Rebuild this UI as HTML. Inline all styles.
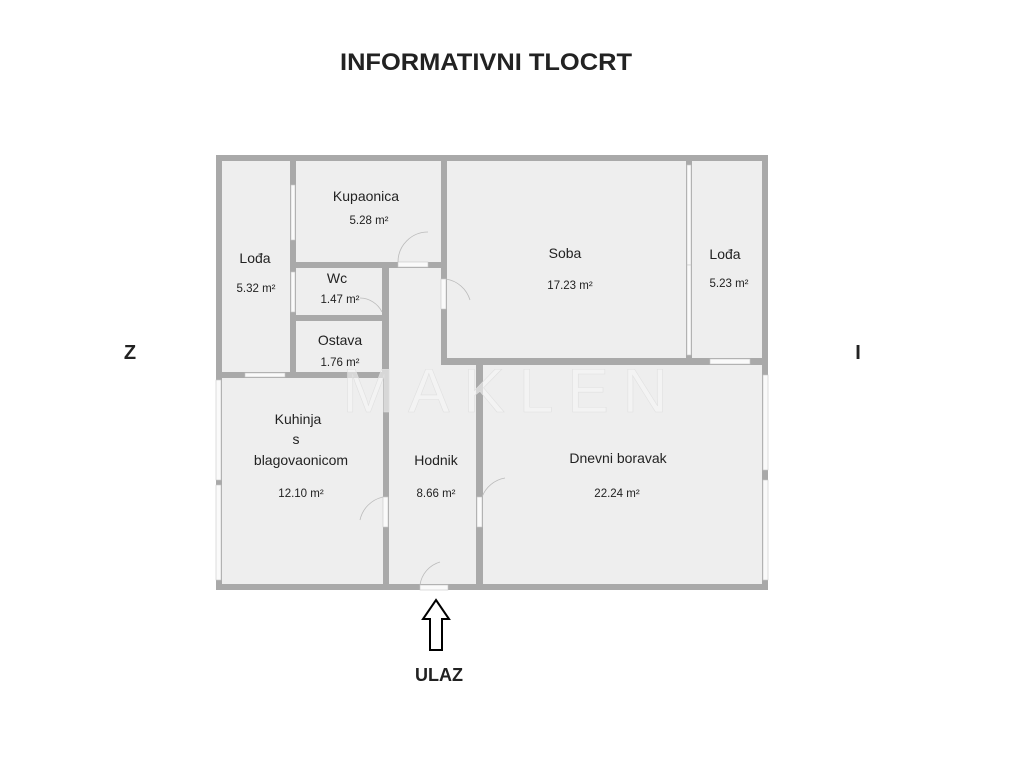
<!DOCTYPE html>
<html><head><meta charset="utf-8"><style>
html,body{margin:0;padding:0;background:#fff;}
svg{display:block;}
text{font-family:"Liberation Sans",sans-serif;fill:#222;}
</style></head><body>
<svg width="1024" height="768" viewBox="0 0 1024 768" xmlns="http://www.w3.org/2000/svg">
<text x="486" y="70" font-size="24.5" font-weight="bold" text-anchor="middle" textLength="292" lengthAdjust="spacingAndGlyphs">INFORMATIVNI TLOCRT</text>
<text x="130" y="359" font-size="20" font-weight="bold" text-anchor="middle">Z</text>
<text x="858" y="359" font-size="20" font-weight="bold" text-anchor="middle">I</text>
<text x="439" y="681" font-size="18" font-weight="bold" text-anchor="middle">ULAZ</text>
<rect x="216" y="155" width="552" height="435" fill="#a9a9a9"/>
<g fill="#eeeeee">
<rect x="222" y="161" width="68" height="211"/>
<rect x="296" y="161" width="145" height="101"/>
<rect x="296" y="268" width="86" height="47"/>
<rect x="296" y="321" width="86" height="51"/>
<rect x="447" y="161" width="239" height="197"/>
<rect x="692" y="161" width="70" height="197"/>
<rect x="222" y="378" width="161" height="206"/>
<rect x="389" y="268" width="52" height="98"/>
<rect x="389" y="365" width="87" height="219"/>
<rect x="483" y="365" width="279" height="219"/>
</g>
<g fill="#fafafa" stroke="#c8c8c8" stroke-width="0.6">
<rect x="291" y="185" width="4" height="55"/>
<rect x="291" y="272" width="4" height="40"/>
<rect x="398" y="262" width="30" height="5"/>
<rect x="441" y="279" width="5" height="30"/>
<rect x="383" y="497" width="5" height="30"/>
<rect x="477" y="497" width="5" height="30"/>
<rect x="420" y="585" width="28" height="5"/>
<rect x="687" y="165" width="4" height="100"/>
<rect x="687" y="265" width="4" height="90"/>
<rect x="216" y="380" width="5" height="100"/>
<rect x="216" y="485" width="5" height="95"/>
<rect x="245" y="373" width="40" height="4"/>
<rect x="763" y="375" width="5" height="95"/>
<rect x="763" y="480" width="5" height="100"/>
<rect x="710" y="359" width="40" height="5"/>
</g>
<g fill="none" stroke="#bbb" stroke-width="0.8">
<path d="M398 262 A30 30 0 0 1 428 232"/>
<path d="M446 279 A30 30 0 0 1 470 300"/>
<path d="M382 312 A25 25 0 0 0 360 298"/>
<path d="M383 497 A30 30 0 0 0 360 520"/>
<path d="M482 497 A30 30 0 0 1 505 478"/>
<path d="M420 585 A28 28 0 0 1 440 562"/>
</g>
<text x="512" y="412" font-size="62" text-anchor="middle" letter-spacing="14" style="fill:#f6f6f6;fill-opacity:0.6;stroke:#e0e0e0;stroke-width:0.6">MAKLEN</text>
<path d="M436 600 L449 619 L442 619 L442 650 L430 650 L430 619 L423 619 Z" fill="#fff" stroke="#000" stroke-width="2"/>
<g font-size="14" text-anchor="middle">
<text x="255" y="263">Lođa</text>
<text x="366" y="201">Kupaonica</text>
<text x="337" y="283">Wc</text>
<text x="340" y="345">Ostava</text>
<text x="565" y="258">Soba</text>
<text x="725" y="259">Lođa</text>
<text x="298" y="424">Kuhinja</text>
<text x="296" y="444">s</text>
<text x="301" y="465">blagovaonicom</text>
<text x="436" y="465">Hodnik</text>
<text x="618" y="463">Dnevni boravak</text>
</g>
<g font-size="11.5" text-anchor="middle">
<text x="256" y="292">5.32 m²</text>
<text x="369" y="224">5.28 m²</text>
<text x="340" y="303">1.47 m²</text>
<text x="340" y="366">1.76 m²</text>
<text x="570" y="289">17.23 m²</text>
<text x="729" y="287">5.23 m²</text>
<text x="301" y="497">12.10 m²</text>
<text x="436" y="497">8.66 m²</text>
<text x="617" y="497">22.24 m²</text>
</g>
</svg>
</body></html>
